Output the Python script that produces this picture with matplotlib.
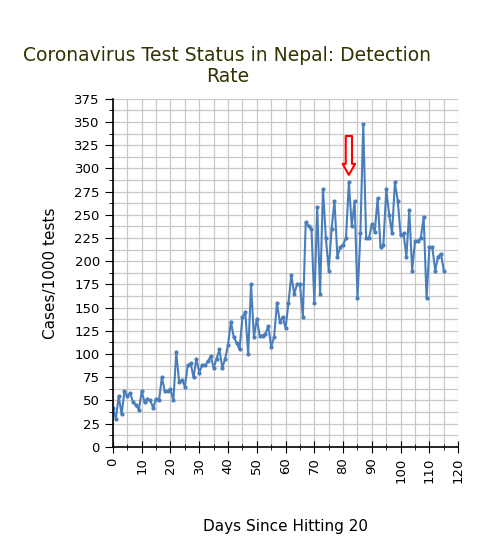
import matplotlib
matplotlib.use("Agg")
import matplotlib.pyplot as plt
from matplotlib.ticker import MultipleLocator

days = list(range(116))
rate = [42,30,55,35,60,55,58,48,45,40,60,48,52,50,42,52,50,75,60,60,62,50,102,70,72,65,88,90,75,95,
        80,88,88,92,98,85,95,105,85,95,110,135,118,112,105,140,145,100,175,118,138,120,120,122,130,108,118,155,135,140,
        128,155,185,165,175,175,140,242,238,235,155,258,165,278,225,190,235,265,205,215,218,225,285,238,265,160,230,348,225,225,
        240,232,268,215,218,278,250,230,285,265,228,230,205,255,190,222,222,225,248,160,215,215,190,205,208,190]

fig = plt.figure(figsize=(4.89,5.49), dpi=100)
ax = fig.add_axes([0.231,0.186,0.706,0.634])
ax.plot(days, rate, color='#4a7ebb', lw=1.5, marker='o', ms=2.0)
ax.set_xlim(0,120); ax.set_ylim(0,375)
ax.xaxis.set_major_locator(MultipleLocator(10)); ax.xaxis.set_minor_locator(MultipleLocator(5))
ax.yaxis.set_major_locator(MultipleLocator(25)); ax.yaxis.set_minor_locator(MultipleLocator(12.5))
ax.grid(which='both', color='#c8c8c8', lw=0.9)
ax.set_axisbelow(True)
for s in ['top','right']:
    ax.spines[s].set_visible(False)
ax.spines['left'].set_linewidth(1.2); ax.spines['bottom'].set_linewidth(1.2)
ax.tick_params(axis='x', which='major', direction='inout', length=8, labelrotation=90, labelsize=9.5)
ax.tick_params(axis='x', which='minor', direction='inout', length=5)
ax.tick_params(axis='y', which='major', direction='out', length=6, labelsize=9.5)
ax.tick_params(axis='y', which='minor', direction='out', length=3)
ax.annotate('', xy=(82,290), xytext=(82,338),
            arrowprops=dict(arrowstyle='simple,head_width=0.9,head_length=0.8,tail_width=0.45', fc='white', ec='red', lw=1.5))
fig.text(0.465,0.88,'Coronavirus Test Status in Nepal: Detection\nRate', ha='center', va='center', fontsize=13.5, color='#333300', linespacing=1.1)
ax.set_ylabel('Cases/1000 tests', fontsize=11, labelpad=12)
ax.set_xlabel('Days Since Hitting 20', fontsize=11, labelpad=26)
fig.savefig('out.png', dpi=100)
